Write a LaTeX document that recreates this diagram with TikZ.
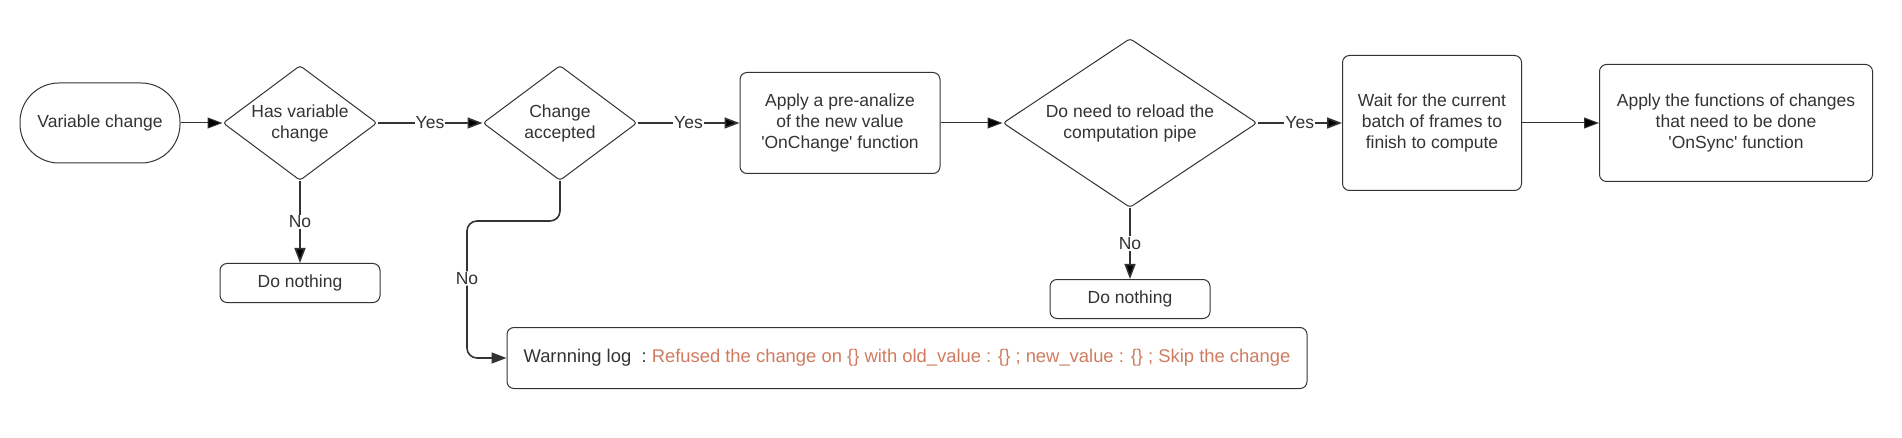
\documentclass[tikz,border=0pt]{standalone}
\usepackage{fontspec}
\setmainfont{Liberation Sans}
\usetikzlibrary{arrows.meta,positioning,shapes.geometric}
\definecolor{inkgrey}{HTML}{333333}
\definecolor{logorange}{HTML}{D07B5F}
\begin{document}
\begin{tikzpicture}[x=1pt,y=-1pt,on grid,
    >={Triangle[length=15pt,width=11pt]},
    every node/.style={font=\fontsize{17.5}{21}\selectfont,text=inkgrey},
    terminal/.style={draw=inkgrey,line width=1pt,rounded corners=39pt,
      minimum width=160pt,minimum height=80pt},
    decision/.style={diamond,draw=inkgrey,line width=1pt,rounded corners=3pt,
      inner sep=0pt,align=center,shape aspect=1.4},
    process/.style={rectangle,draw=inkgrey,line width=1pt,rounded corners=7pt,
      align=center,inner sep=2pt},
    answer/.style={fill=white,inner sep=1pt},
    thin flow/.style={draw=inkgrey,line width=1pt},
    main flow/.style={draw=inkgrey,line width=1.6pt}]
   \useasboundingbox (0,0) rectangle (1902,438);
   \node [terminal] (start) at (100,123) {Variable change};
   \node [decision,minimum width=154pt,minimum height=115pt] (hasvar) [right=200pt of start] {Has variable\\change};
   \node [decision,minimum width=154pt,minimum height=115pt] (accepted) [right=260pt of hasvar] {Change\\accepted};
   \node [process,minimum width=200pt,minimum height=101pt] (preanalize) [right=280pt of accepted] {Apply a pre-analize\\of the new value\\\textquotesingle OnChange\textquotesingle{} function};
   \node [decision,minimum width=254pt,minimum height=169pt,shape aspect=1.5] (reload) [right=290pt of preanalize] {Do need to reload the\\computation pipe};
   \node [process,minimum width=179pt,minimum height=135pt] (wait) [right=302pt of reload] {Wait for the current\\batch of frames to\\finish to compute};
   \node [process,minimum width=273pt,minimum height=117pt] (onsync) [right=304pt of wait] {Apply the functions of changes\\that need to be done\\\textquotesingle OnSync\textquotesingle{} function};
   \node [process,minimum width=160pt,minimum height=39pt] (nothing1) [below=160pt of hasvar] {Do nothing};
   \node [process,minimum width=160pt,minimum height=39pt] (nothing2) [below=176pt of reload] {Do nothing};
   \node [process,minimum width=800pt,minimum height=61pt,font=\fontsize{18.4}{22}\selectfont] (warning) at (907,358)
     {Warnning log~~:\textcolor{logorange}{~Refused the change on \{\} with old\_value : \{\} ; new\_value : \{\} ; Skip the change}};
   \coordinate (nobend) at (467,221);
    \path[->,thin flow]
    (start) edge (hasvar)
    (preanalize) edge (reload)
    (wait) edge (onsync);
    \path[->,main flow]
    (hasvar) edge node [answer] {Yes} (accepted)
    (accepted) edge node [answer] {Yes} (preanalize)
    (reload) edge node [answer] {Yes} (wait)
    (hasvar) edge node [answer] {No} (nothing1)
    (reload) edge node [answer] {No} (nothing2);
    \draw[->,main flow,rounded corners=10pt] (accepted.south) |- (nobend)
      |- node [answer,pos=0.21] {No} (warning.west);
\end{tikzpicture}
\end{document}
